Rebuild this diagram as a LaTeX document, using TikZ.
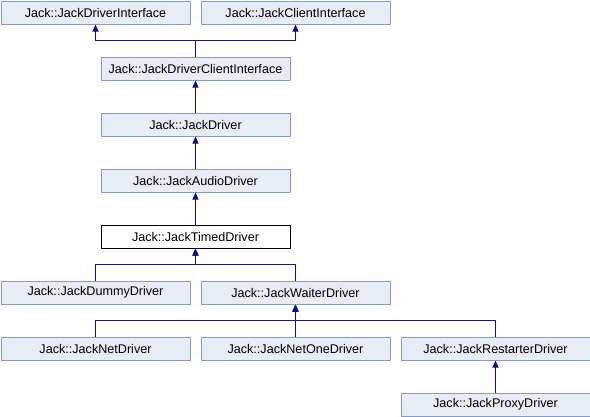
\documentclass[tikz,border=0pt]{standalone}
\usepackage{fontspec}
\setmainfont{Liberation Sans}
\usetikzlibrary{arrows.meta}
\definecolor{boxfill}{RGB}{232,236,245}
\definecolor{boxline}{RGB}{132,156,204}
\definecolor{linkcol}{RGB}{16,16,140}
\begin{document}
\begin{tikzpicture}[x=1pt,y=1pt,
  cls/.style={draw=boxline,fill=boxfill,line width=1pt,minimum width=189pt,minimum height=23pt,inner sep=0pt,anchor=north west,font=\fontsize{12.6}{14}\selectfont},
  cur/.style={cls,draw=black,fill=white},
  inh/.style={draw=linkcol,line width=1pt,-{Triangle[width=6pt,length=7pt]}}]
\useasboundingbox (0,0) rectangle (590,-416);
\node[cls] (dri) at (0.5,-0.5) {Jack::JackDriverInterface};
\node[cls] (cli) at (200.5,-0.5) {Jack::JackClientInterface};
\node[cls] (dci) at (100.5,-56.5) {Jack::JackDriverClientInterface};
\node[cls] (drv) at (100.5,-112.5) {Jack::JackDriver};
\node[cls] (aud) at (100.5,-168.5) {Jack::JackAudioDriver};
\node[cur] (tim) at (100.5,-224.5) {Jack::JackTimedDriver};
\node[cls] (dum) at (0.5,-280.5) {Jack::JackDummyDriver};
\node[cls] (wai) at (200.5,-280.5) {Jack::JackWaiterDriver};
\node[cls] (net) at (0.5,-336.5) {Jack::JackNetDriver};
\node[cls] (one) at (200.5,-336.5) {Jack::JackNetOneDriver};
\node[cls] (res) at (400.5,-336.5) {Jack::JackRestarterDriver};
\node[cls] (pro) at (400.5,-392.5) {Jack::JackProxyDriver};
\draw[inh] (dci.north) -- ++(0,16) -| (dri.south);
\draw[inh] (dci.north) -- ++(0,16) -| (cli.south);
\draw[inh] (drv.north) -- (dci.south);
\draw[inh] (aud.north) -- (drv.south);
\draw[inh] (tim.north) -- (aud.south);
\draw[inh] (dum.north) -- ++(0,16) -| (tim.south);
\draw[inh] (wai.north) -- ++(0,16) -| (tim.south);
\draw[inh] (net.north) -- ++(0,16) -| (wai.south);
\draw[inh] (one.north) -- ++(0,16) -| (wai.south);
\draw[inh] (res.north) -- ++(0,16) -| (wai.south);
\draw[inh] (pro.north) -- (res.south);
\end{tikzpicture}
\end{document}
